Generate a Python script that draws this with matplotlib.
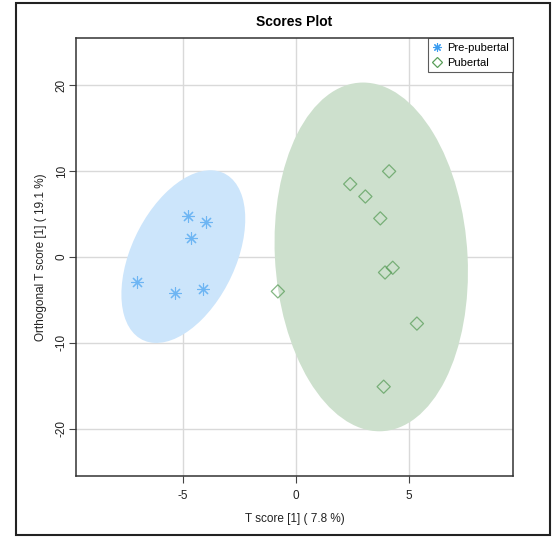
import numpy as np
import matplotlib
matplotlib.use('Agg')
import matplotlib.pyplot as plt
from matplotlib.patches import Ellipse, Rectangle
from matplotlib.lines import Line2D

plt.rcParams['font.family'] = ['Liberation Sans', 'DejaVu Sans']
plt.rcParams['axes.unicode_minus'] = False

# scores
pre_x = [-4.78, -3.98, -4.65, -7.03, -5.35, -4.10]
pre_y = [4.80, 4.10, 2.20, -2.90, -4.20, -3.70]
pub_x = [4.12, 2.40, 3.07, 3.73, 4.28, 3.94, -0.80, 5.35, 3.88]
pub_y = [9.98, 8.50, 7.05, 4.50, -1.25, -1.80, -4.00, -7.75, -15.10]

groups = ['Pre-pubertal', 'Pubertal']
pt_colors = ['#3a9cf0', '#5a9e5a']
fill_colors = ['#cce5fb', '#cde0cd']

xticks = [-5, 0, 5]
yticks = [-20, -10, 0, 10, 20]


def conf_ellipse(x, y, color):
    # 95% data ellipse from the group covariance
    pts = np.column_stack([x, y])
    cov = np.cov(pts, rowvar=False)
    vals, vecs = np.linalg.eigh(cov)
    k = np.sqrt(5.991)
    angle = np.degrees(np.arctan2(vecs[1, 1], vecs[0, 1]))
    return Ellipse(pts.mean(axis=0), 2 * k * np.sqrt(vals[1]), 2 * k * np.sqrt(vals[0]),
                   angle=angle, facecolor=color, edgecolor='none', zorder=1)


fig = plt.figure(figsize=(5.57, 5.37), dpi=100)
ax = fig.add_axes([0.1364, 0.1136, 0.7846, 0.8155])

ax.add_patch(conf_ellipse(pre_x, pre_y, fill_colors[0]))
ax.add_patch(conf_ellipse(pub_x, pub_y, fill_colors[1]))

for v in xticks:
    ax.axvline(v, color='#d9d9d9', lw=1, zorder=0.5)
for v in yticks:
    ax.axhline(v, color='#d9d9d9', lw=1, zorder=0.5)

ax.scatter(pre_x, pre_y, marker=(8, 2, 0), s=75, color=pt_colors[0], lw=0.8, alpha=0.65, zorder=3)
ax.scatter(pub_x, pub_y, marker='D', s=45, facecolor='none', edgecolor=pt_colors[1], lw=0.9, alpha=0.75, zorder=3)

ax.set_xlim(-9.73, 9.6)
ax.set_ylim(-25.5, 25.5)
ax.set_xticks(xticks)
ax.set_yticks(yticks)
ax.tick_params(labelsize=8.5, length=5, width=0.8, color='#444444', labelcolor='#222222')
ax.tick_params(axis='x', pad=5)
ax.tick_params(axis='y', pad=1)
for lab in ax.get_yticklabels():
    lab.set_rotation(90)
    lab.set_va('center')
for s in ax.spines.values():
    s.set_linewidth(1.1)
    s.set_color('#333333')

ax.set_xlabel('T score [1] ( 7.8 %)', fontsize=8.5, labelpad=8, color='#222222')
ax.set_ylabel('Orthogonal T score [1] ( 19.1 %)', fontsize=8.5, labelpad=6, color='#222222')
ax.set_title('Scores Plot', fontsize=10, fontweight='bold', pad=9)

handles = [Line2D([], [], marker=(8, 2, 0), ls='none', color=pt_colors[0], ms=6, mew=0.8),
           Line2D([], [], marker='D', ls='none', mfc='none', mec=pt_colors[1], ms=5, mew=0.9)]
leg = ax.legend(handles, groups, loc='upper right', fontsize=8, frameon=True, fancybox=False,
                borderaxespad=0, handlelength=0.8, handletextpad=0.5, borderpad=0.4,
                labelspacing=0.45, edgecolor='#333333')
leg.get_frame().set_linewidth(0.8)

# outer border
fig.patches.append(Rectangle((16 / 557, 2 / 537), 534 / 557, 532 / 537, transform=fig.transFigure,
                             fill=False, edgecolor='#222222', lw=1.5))

fig.savefig('out.png', dpi=100)
